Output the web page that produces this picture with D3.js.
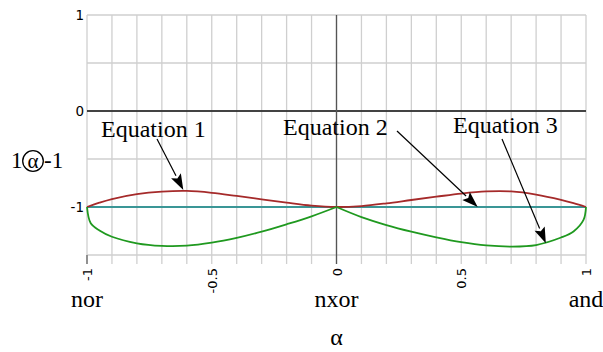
<!DOCTYPE html>
<html>
<head>
<meta charset="utf-8">
<script src="https://cdn.jsdelivr.net/npm/d3@7"></script>
<style>
  html, body { margin: 0; padding: 0; background: #fff; }
  svg { display: block; }
  .serif { font-family: "Liberation Serif", Tinos, "Times New Roman", "Noto Serif", "DejaVu Serif", FreeSerif, serif; }
</style>
</head>
<body>
<svg id="chart" width="603" height="352"></svg>
<script>
// Alpha positions and curve values
const alphaRed = [-1, -0.95, -0.9, -0.8, -0.7, -0.6, -0.5, -0.4, -0.3, -0.2, -0.1, 0, 0.1, 0.2, 0.3, 0.4, 0.5, 0.6, 0.7, 0.8, 0.9, 0.95, 1];
const eq1Values = [-1, -0.955, -0.917, -0.866, -0.84, -0.833, -0.852, -0.885, -0.92, -0.955, -0.986, -1, -0.99, -0.962, -0.927, -0.893, -0.86, -0.838, -0.838, -0.87, -0.925, -0.96, -1];

const alphaFlat = [-1, 1];
const eq2Values = [-1, -1];

const alphaGreen = [-1, -0.985, -0.95, -0.9, -0.8, -0.7, -0.6, -0.5, -0.4, -0.3, -0.2, -0.1, 0, 0.1, 0.2, 0.3, 0.4, 0.5, 0.6, 0.7, 0.8, 0.9, 0.95, 0.99, 1];
const eq3Values = [-1, -1.17, -1.245, -1.31, -1.378, -1.405, -1.403, -1.372, -1.322, -1.257, -1.18, -1.097, -1, -1.105, -1.188, -1.257, -1.316, -1.366, -1.4, -1.412, -1.396, -1.318, -1.255, -1.135, -1];

const xTickValues = [-1, -0.5, 0, 0.5, 1];
const xTickLabels = ["-1", "-0.5", "0", "0.5", "1"];
const yTickValues = [1, 0, -1];
const yTickLabels = ["1", "0", "-1"];
const gateNames = ["nor", "nxor", "and"];
const gatePositions = [-1, 0, 1];

const eqLabels = ["Equation 1", "Equation 2", "Equation 3"];
const eqTipAlpha = [-0.614, 0.566, 0.839];
const eqTipValue = [-0.823, -1, -1.378];

const svg = d3.select("#chart");
const x = d3.scaleLinear().domain([-1, 1]).range([87, 586]);
const y = d3.scaleLinear().domain([-1.5, 1]).range([255, 15]);

// grid
const grid = svg.append("g");
grid.selectAll("line.v").data(d3.range(-10, 11).map(i => i / 10)).join("line")
  .attr("x1", d => x(d)).attr("x2", d => x(d))
  .attr("y1", y(1)).attr("y2", y(-1.5) + 9)
  .attr("stroke", "#cfcfcf").attr("stroke-width", 1.3);
grid.selectAll("line.h").data(d3.range(-3, 3).map(i => i / 2)).join("line")
  .attr("x1", x(-1)).attr("x2", x(1))
  .attr("y1", d => y(d)).attr("y2", d => y(d))
  .attr("stroke", "#cfcfcf").attr("stroke-width", 1.3);

// axes through the origin
svg.append("line").attr("x1", x(-1)).attr("x2", x(1)).attr("y1", y(0)).attr("y2", y(0))
  .attr("stroke", "#111").attr("stroke-width", 1.3);
svg.append("line").attr("x1", x(0)).attr("x2", x(0)).attr("y1", y(1)).attr("y2", y(-1.5) + 9)
  .attr("stroke", "#555").attr("stroke-width", 1.3);
svg.append("line").attr("x1", x(-1)).attr("x2", x(-1)).attr("y1", y(-1.5)).attr("y2", y(-1.5) + 9)
  .attr("stroke", "#666").attr("stroke-width", 1.3);

// x tick labels (rotated)
const xAxis = d3.axisBottom(x).tickValues(xTickValues).tickSize(0)
  .tickFormat((d, i) => xTickLabels[i]);
const gx = svg.append("g").attr("transform", `translate(0,${y(-1.5) + 9})`).call(xAxis);
gx.select(".domain").remove();
gx.selectAll("text")
  .attr("transform", "rotate(-90)")
  .attr("x", -4).attr("y", 0).attr("dy", "0.35em")
  .style("text-anchor", "end")
  .style("font-family", "'DejaVu Sans', sans-serif")
  .style("font-size", "13px").attr("fill", "#000");

// y tick labels
const yAxis = d3.axisLeft(y).tickValues(yTickValues).tickSize(0).tickPadding(3)
  .tickFormat((d, i) => yTickLabels[i]);
const gy = svg.append("g").attr("transform", `translate(${x(-1)},0)`).call(yAxis);
gy.select(".domain").remove();
gy.selectAll("text")
  .style("font-family", "'DejaVu Sans', sans-serif")
  .style("font-size", "13.5px").attr("fill", "#000");

// curves
svg.append("path").datum(eq2Values)
  .attr("d", d3.line().x((d, i) => x(alphaFlat[i])).y(d => y(d)))
  .attr("fill", "none").attr("stroke", "#3a9696").attr("stroke-width", 1.8);

svg.append("path").datum(eq1Values)
  .attr("d", d3.line().x((d, i) => x(alphaRed[i])).y(d => y(d)).curve(d3.curveCatmullRom.alpha(0.5)))
  .attr("fill", "none").attr("stroke", "#a52a2a").attr("stroke-width", 1.8);

// green curve has a cusp at alpha = 0, so draw each half separately
const zeroIdx = alphaGreen.indexOf(0);
const greenHalves = [
  d3.range(0, zeroIdx + 1),
  d3.range(zeroIdx, alphaGreen.length)
];
greenHalves.forEach(idx => {
  svg.append("path").datum(idx)
    .attr("d", d3.line().x(i => x(alphaGreen[i])).y(i => y(eq3Values[i])).curve(d3.curveCatmullRom.alpha(0.5)))
    .attr("fill", "none").attr("stroke", "#1f991f").attr("stroke-width", 1.8);
});

// gate names under the axis
svg.append("g").attr("class", "serif").selectAll("text").data(gateNames).join("text")
  .attr("x", (d, i) => x(gatePositions[i])).attr("y", 307)
  .attr("text-anchor", "middle")
  .attr("font-family", "Liberation Serif")
  .style("font-size", "24px")
  .text(d => d);

svg.append("text").attr("class", "serif").attr("x", x(0)).attr("y", 345).attr("text-anchor", "middle")
  .style("font-size", "24px")
  .text("α");

// y label: 1 (circled alpha) -1
const yl = svg.append("g").attr("class", "serif").style("font-size", "23px");
yl.append("text").attr("x", 11).attr("y", 168).text("1");
yl.append("circle").attr("cx", 33).attr("cy", 161).attr("r", 10.3)
  .attr("fill", "none").attr("stroke", "#000").attr("stroke-width", 1.3);
yl.append("text").attr("x", 33).attr("y", 167.5).attr("text-anchor", "middle").style("font-size", "21px").text("α");
yl.append("text").attr("x", 44).attr("y", 168).text("-1");

// annotations
const labelPos = [[101, 137], [283, 135], [453, 133]];
const arrowStart = [[157, 139], [397, 131], [502, 139]];
const ann = svg.append("g");
eqLabels.forEach((lab, i) => {
  ann.append("text").attr("class", "serif").attr("x", labelPos[i][0]).attr("y", labelPos[i][1])
    .style("font-size", "24px")
    .text(lab);
  const x0 = arrowStart[i][0], y0 = arrowStart[i][1];
  const x1 = x(eqTipAlpha[i]), y1 = y(eqTipValue[i]);
  const ang = Math.atan2(y1 - y0, x1 - x0);
  const L = 16, W = 5.5;
  const bx = x1 - L * Math.cos(ang), by = y1 - L * Math.sin(ang);
  ann.append("line").attr("x1", x0).attr("y1", y0).attr("x2", bx).attr("y2", by)
    .attr("stroke", "#000").attr("stroke-width", 1.2);
  const px = -Math.sin(ang), py = Math.cos(ang);
  const nx = x1 - (L - 3) * Math.cos(ang), ny = y1 - (L - 3) * Math.sin(ang);
  ann.append("path")
    .attr("d", `M${x1},${y1}L${bx + W * px},${by + W * py}L${nx},${ny}L${bx - W * px},${by - W * py}Z`)
    .attr("fill", "#000");
});
</script>
</body>
</html>
